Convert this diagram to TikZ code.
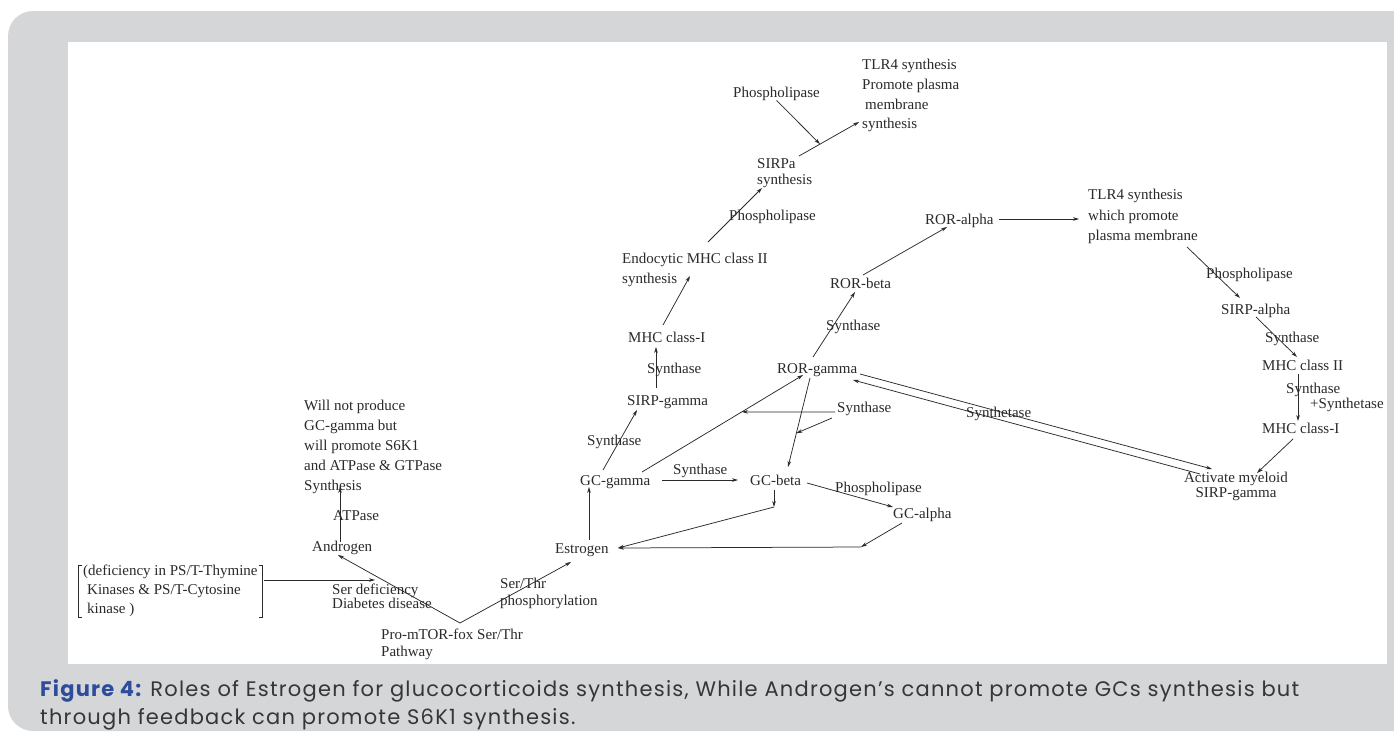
\documentclass[tikz,border=0pt]{standalone}
\usepackage{fontspec}
\setmainfont{Liberation Serif}
\newfontfamily\capfont[LetterSpace=5.8]{Poppins}
\usetikzlibrary{calc,arrows.meta}

\definecolor{panelgray}{HTML}{D5D6D8}
\definecolor{figblue}{HTML}{2E4C9C}
\definecolor{captext}{HTML}{363636}
\definecolor{inkgray}{HTML}{2A2A2A}

\tikzset{
  lbl/.style={inner sep=0pt, font=\fontsize{15}{19}\selectfont, text=inkgray},
  blk/.style={lbl, align=left, anchor=north west, font=\fontsize{15}{#1}\selectfont},
  link/.style={draw=inkgray, line width=0.75pt, -{Stealth[length=6pt,width=3.6pt]}},
  plain/.style={draw=inkgray, line width=0.75pt},
}

\begin{document}
\begin{tikzpicture}[x=1pt,y=-1pt]
  \useasboundingbox (0,0) rectangle (1394,731);
  \fill[panelgray] (1394,11) -- (33,11) arc[start angle=270,end angle=180,radius=25]
    -- (8,706) arc[start angle=180,end angle=90,radius=25] -- (1394,731) -- cycle;
  \fill[white] (68,42) rectangle (1387,664);

  % left branch
  \node[blk=19, inner xsep=5pt] (defic) at (78,565) {(deficiency in PS/T-Thymine\\\hspace{4pt}Kinases \& PS/T-Cytosine\\\hspace{4pt}kinase )};
  \node[blk=14] (serdef) at (332,584) {Ser deficiency\\Diabetes disease};
  \node[blk=17] (promtor) at (381,629) {Pro-mTOR-fox Ser/Thr\\Pathway};
  \node[blk=16.5] (serthr) at (500,578) {Ser/Thr\\phosphorylation};
  \node[lbl, anchor=base west] (androgen) at (312,551) {Androgen};
  \node[lbl, anchor=base west] (atpase) at (333,520) {ATPase};
  \node[blk=20] (willnot) at (304,400) {Will not produce\\GC-gamma but\\will promote S6K1\\and ATPase \& GTPase\\Synthesis};

  % GC and SIRP column
  \node[lbl, anchor=base west] (estrogen) at (555,553) {Estrogen};
  \node[lbl, anchor=base west] (gcgamma) at (580,485) {GC-gamma};
  \node[lbl, anchor=base west] (synB) at (587,445) {Synthase};
  \node[lbl, anchor=base west] (sirpgA) at (627,405) {SIRP-gamma};
  \node[lbl, anchor=base west] (synA) at (647,373) {Synthase};
  \node[lbl, anchor=base west] (mhcIa) at (628,342) {MHC class-I};
  \node[blk=19.5] (endo) at (622,253) {Endocytic MHC class II\\synthesis};
  \node[lbl, anchor=base west] (phosB) at (729,220) {Phospholipase};
  \node[blk=16] (sirpa) at (757,158) {SIRPa\\synthesis};
  \node[lbl, anchor=base west] (phosA) at (733,97) {Phospholipase};
  \node[blk=19.7] (tlr4A) at (862,59) {TLR4 synthesis\\Promote plasma\\\hspace{3pt}membrane\\synthesis};
  \node[lbl, anchor=base west] (synC) at (673,474) {Synthase};
  \node[lbl, anchor=base west] (gcbeta) at (750,485) {GC-beta};
  \node[lbl, anchor=base west] (phosC) at (835,492) {Phospholipase};
  \node[lbl, anchor=base west] (gcalpha) at (893,518) {GC-alpha};

  % ROR branch
  \node[lbl, anchor=base west] (rorgamma) at (777,373) {ROR-gamma};
  \node[lbl, anchor=base west] (synD) at (837,412) {Synthase};
  \node[lbl, anchor=base west] (synE) at (826,330) {Synthase};
  \node[lbl, anchor=base west] (rorbeta) at (830,288) {ROR-beta};
  \node[lbl, anchor=base west] (roralpha) at (925,224) {ROR-alpha};
  \node[blk=20.5] (tlr4B) at (1088,189) {TLR4 synthesis\\which promote\\plasma membrane};
  \node[lbl, anchor=base west] (phosD) at (1206,278) {Phospholipase};
  \node[lbl, anchor=base west] (sirpalpha) at (1221,314) {SIRP-alpha};
  \node[lbl, anchor=base west] (synF) at (1265,342) {Synthase};
  \node[lbl, anchor=base west] (mhcII) at (1262,370) {MHC class II};
  \node[blk=13] (synG) at (1286,383) {Synthase\\\hspace{24pt}+Synthetase};
  \node[lbl, anchor=base west] (mhcIb) at (1262,433) {MHC class-I};
  \node[blk=15, align=center, anchor=north] (activate) at (1236,472) {Activate myeloid\\SIRP-gamma};
  \node[lbl, anchor=base west] (synthetase) at (966,417) {Synthetase};

  \draw[plain] ([xshift=4pt]defic.north west) -- (defic.north west) -- (defic.south west) -- ([xshift=4pt]defic.south west);
  \draw[plain] ([xshift=-4pt]defic.north east) -- (defic.north east) -- (defic.south east) -- ([xshift=-4pt]defic.south east);
  \draw[link] ($(defic.north east)+(1,15)$) -- ($(serdef.north west)+(43,-4)$);
  \draw[link] ($(promtor.north west)+(79,-6)$) -- ($(androgen.base west)+(26,4)$);
  \draw[link] ($(promtor.north west)+(79,-6)$) -- ($(estrogen.base west)+(16,9)$);
  \draw[link] ($(androgen.base west)+(28,-9)$) -- ($(willnot.north west)+(36,87)$);

  \draw[link] ($(estrogen.base west)+(34,-13)$) -- ($(gcgamma.base west)+(9,2)$);
  \draw[link] ($(gcgamma.base west)+(23,-15)$) -- ($(sirpgA.base west)+(10,5)$);
  \draw[link] ($(sirpgA.base west)+(29,-17)$) -- ($(mhcIa.base west)+(28,5)$);
  \draw[link] ($(mhcIa.base west)+(35,-17)$) -- ($(endo.north west)+(68,23)$);
  \draw[link] ($(endo.north west)+(86,-11)$) -- ($(sirpa.north west)+(5,30)$);
  \draw[link] ($(sirpa.north west)+(42,-2)$) -- coordinate[pos=0.35] (sirpaLine) ($(tlr4A.north west)+(-3,63)$);
  \draw[link] (phosA.south) -- (sirpaLine);

  \draw[link] ($(gcgamma.base west)+(82,-5)$) -- ($(gcbeta.base west)+(-12,-5)$);
  \draw[link] ($(gcgamma.base west)+(62,-13)$) -- coordinate[pos=0.62] (gcrorMid) ($(rorgamma.base west)+(26,2)$);
  \draw[link] ($(rorgamma.base west)+(33,5)$) -- coordinate[pos=0.62] (rorgbMid) ($(gcbeta.base west)+(38,-18)$);
  \draw[link] ($(synD.base west)+(-2,0)$) -- (gcrorMid);
  \draw[link] ($(synD.base west)+(-5,6)$) -- (rorgbMid);
  \draw[link] ($(gcbeta.base west)+(57,-2)$) -- ($(gcalpha.base west)+(0,-11)$);
  \coordinate (gcbetaDrop) at ($(gcbeta.base west)+(24,22)$);
  \coordinate (gcalphaDrop) at ($(gcalpha.base west)+(-32,29)$);
  \draw[link] ($(gcbeta.base west)+(24,5)$) -- (gcbetaDrop);
  \draw[link] (gcbetaDrop) -- ($(estrogen.base west)+(63,-5)$);
  \draw[link] ($(gcalpha.base west)+(9,5)$) -- (gcalphaDrop);
  \draw[link] (gcalphaDrop) -- ($(estrogen.base west)+(63,-5)$);

  \draw[link] ($(rorgamma.base west)+(36,-16)$) -- ($(rorbeta.base west)+(25,4)$);
  \draw[link] ($(rorbeta.base west)+(33,-13)$) -- ($(roralpha.base west)+(22,3)$);
  \draw[link] ($(roralpha.base west)+(74,-5)$) -- ($(tlr4B.north west)+(-9,30)$);
  \draw[link] ($(tlr4B.north west)+(99,58)$) -- ($(sirpalpha.base west)+(19,-16)$);
  \draw[link] ($(sirpalpha.base west)+(35,3)$) -- ($(mhcII.base west)+(35,-13)$);
  \draw[link] ($(mhcII.base west)+(36,4)$) -- ($(mhcIb.base west)+(36,-12)$);
  \draw[link] ($(mhcIb.base west)+(31,6)$) -- ($(activate.north)+(21,1)$);
  \draw[link] ($(rorgamma.base west)+(83,1)$) -- ($(activate.north)+(-24,-3)$);
  \draw[link] ($(activate.north)+(-36,2)$) -- ($(rorgamma.base west)+(76,7)$);

  \node[anchor=north west, inner sep=0pt, align=left, text=captext,
        font=\capfont\fontsize{21}{28}\selectfont] (caption) at (40,679)
    {\textcolor{figblue}{\bfseries Figure 4:} Roles of Estrogen for glucocorticoids synthesis, While Androgen’s cannot promote GCs synthesis but\\through feedback can promote S6K1 synthesis.};
\end{tikzpicture}
\end{document}
